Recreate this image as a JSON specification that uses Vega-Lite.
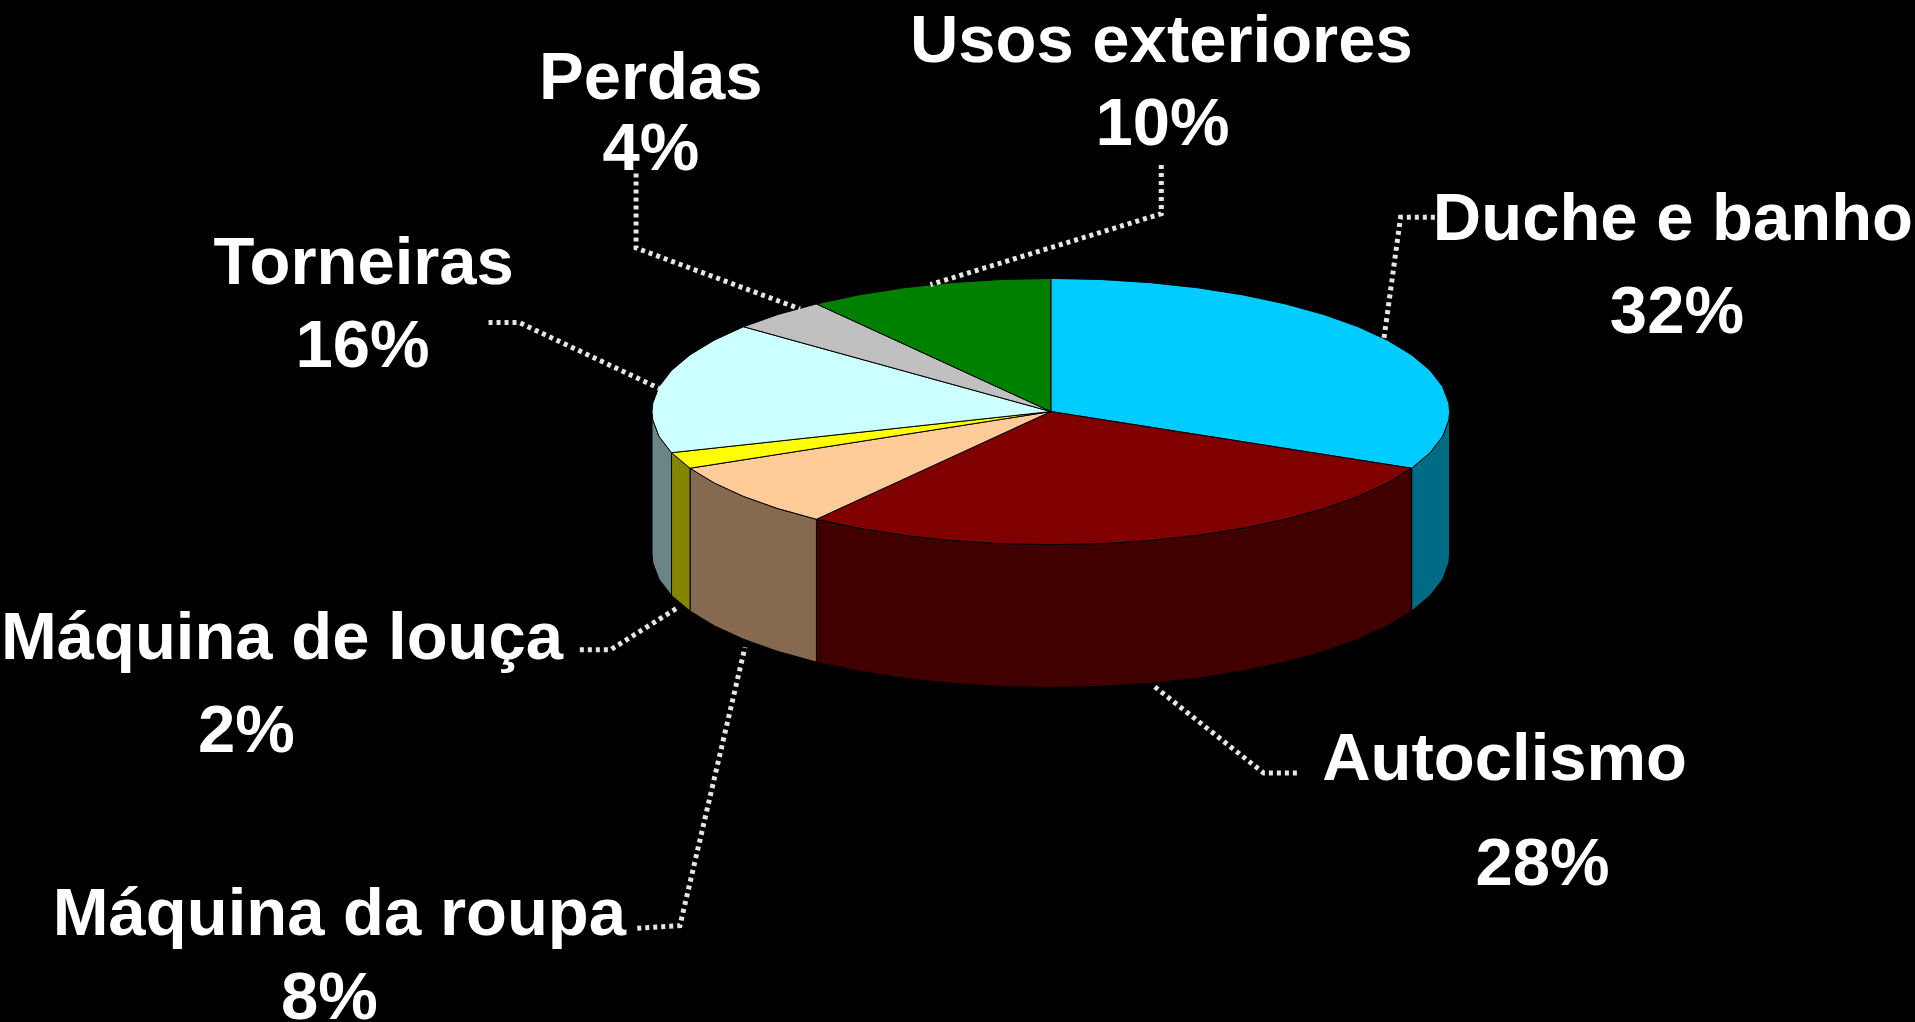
{"$schema":"https://vega.github.io/schema/vega-lite/v6.json","width":1915,"height":1022,"autosize":{"type":"none"},"padding":0,"background":"#000000","config":{"view":{"stroke":null}},
"resolve":{"scale":{"fill":"independent"}},
"datasets":{
"walls":[
{"part":"Duche e banho (lado)","x":1,"y":0,"y2":-1.073},{"part":"Duche e banho (lado)","x":0.998,"y":-0.0628,"y2":-1.1358},{"part":"Duche e banho (lado)","x":0.9823,"y":-0.1874,"y2":-1.2604},{"part":"Duche e banho (lado)","x":0.9511,"y":-0.309,"y2":-1.382},{"part":"Duche e banho (lado)","x":0.9048,"y":-0.4258,"y2":-1.4988},
{"part":"Autoclismo (lado)","x":0.9048,"y":-0.4258,"y2":-1.4988},{"part":"Autoclismo (lado)","x":0.8443,"y":-0.5358,"y2":-1.6088},{"part":"Autoclismo (lado)","x":0.7705,"y":-0.6374,"y2":-1.7104},{"part":"Autoclismo (lado)","x":0.6845,"y":-0.729,"y2":-1.802},{"part":"Autoclismo (lado)","x":0.5878,"y":-0.809,"y2":-1.882},{"part":"Autoclismo (lado)","x":0.4818,"y":-0.8763,"y2":-1.9493},{"part":"Autoclismo (lado)","x":0.3681,"y":-0.9298,"y2":-2.0028},{"part":"Autoclismo (lado)","x":0.2487,"y":-0.9686,"y2":-2.0416},{"part":"Autoclismo (lado)","x":0.1253,"y":-0.9921,"y2":-2.0651},{"part":"Autoclismo (lado)","x":0,"y":-1,"y2":-2.073},{"part":"Autoclismo (lado)","x":-0.1253,"y":-0.9921,"y2":-2.0651},{"part":"Autoclismo (lado)","x":-0.2487,"y":-0.9686,"y2":-2.0416},{"part":"Autoclismo (lado)","x":-0.3681,"y":-0.9298,"y2":-2.0028},{"part":"Autoclismo (lado)","x":-0.4818,"y":-0.8763,"y2":-1.9493},{"part":"Autoclismo (lado)","x":-0.5878,"y":-0.809,"y2":-1.882},
{"part":"Máquina da roupa (lado)","x":-0.5878,"y":-0.809,"y2":-1.882},{"part":"Máquina da roupa (lado)","x":-0.6845,"y":-0.729,"y2":-1.802},{"part":"Máquina da roupa (lado)","x":-0.7705,"y":-0.6374,"y2":-1.7104},{"part":"Máquina da roupa (lado)","x":-0.8443,"y":-0.5358,"y2":-1.6088},{"part":"Máquina da roupa (lado)","x":-0.9048,"y":-0.4258,"y2":-1.4988},
{"part":"Máquina de louça (lado)","x":-0.9048,"y":-0.4258,"y2":-1.4988},{"part":"Máquina de louça (lado)","x":-0.9511,"y":-0.309,"y2":-1.382},
{"part":"Torneiras (lado)","x":-0.9511,"y":-0.309,"y2":-1.382},{"part":"Torneiras (lado)","x":-0.9823,"y":-0.1874,"y2":-1.2604},{"part":"Torneiras (lado)","x":-0.998,"y":-0.0628,"y2":-1.1358},{"part":"Torneiras (lado)","x":-1,"y":0,"y2":-1.073}
],
"slices":[
{"part":"Duche e banho","p":-1,"x":0,"y":0},{"part":"Duche e banho","p":0,"x":0,"y":1},{"part":"Duche e banho","p":2,"x":0.1253,"y":0.9921},{"part":"Duche e banho","p":4,"x":0.2487,"y":0.9686},{"part":"Duche e banho","p":6,"x":0.3681,"y":0.9298},{"part":"Duche e banho","p":8,"x":0.4818,"y":0.8763},{"part":"Duche e banho","p":10,"x":0.5878,"y":0.809},{"part":"Duche e banho","p":12,"x":0.6845,"y":0.729},{"part":"Duche e banho","p":14,"x":0.7705,"y":0.6374},{"part":"Duche e banho","p":16,"x":0.8443,"y":0.5358},{"part":"Duche e banho","p":18,"x":0.9048,"y":0.4258},{"part":"Duche e banho","p":20,"x":0.9511,"y":0.309},{"part":"Duche e banho","p":22,"x":0.9823,"y":0.1874},{"part":"Duche e banho","p":24,"x":0.998,"y":0.0628},{"part":"Duche e banho","p":25,"x":1,"y":0},{"part":"Duche e banho","p":26,"x":0.998,"y":-0.0628},{"part":"Duche e banho","p":28,"x":0.9823,"y":-0.1874},{"part":"Duche e banho","p":30,"x":0.9511,"y":-0.309},{"part":"Duche e banho","p":32,"x":0.9048,"y":-0.4258},
{"part":"Autoclismo","p":-1,"x":0,"y":0},{"part":"Autoclismo","p":32,"x":0.9048,"y":-0.4258},{"part":"Autoclismo","p":34,"x":0.8443,"y":-0.5358},{"part":"Autoclismo","p":36,"x":0.7705,"y":-0.6374},{"part":"Autoclismo","p":38,"x":0.6845,"y":-0.729},{"part":"Autoclismo","p":40,"x":0.5878,"y":-0.809},{"part":"Autoclismo","p":42,"x":0.4818,"y":-0.8763},{"part":"Autoclismo","p":44,"x":0.3681,"y":-0.9298},{"part":"Autoclismo","p":46,"x":0.2487,"y":-0.9686},{"part":"Autoclismo","p":48,"x":0.1253,"y":-0.9921},{"part":"Autoclismo","p":50,"x":0,"y":-1},{"part":"Autoclismo","p":52,"x":-0.1253,"y":-0.9921},{"part":"Autoclismo","p":54,"x":-0.2487,"y":-0.9686},{"part":"Autoclismo","p":56,"x":-0.3681,"y":-0.9298},{"part":"Autoclismo","p":58,"x":-0.4818,"y":-0.8763},{"part":"Autoclismo","p":60,"x":-0.5878,"y":-0.809},
{"part":"Máquina da roupa","p":-1,"x":0,"y":0},{"part":"Máquina da roupa","p":60,"x":-0.5878,"y":-0.809},{"part":"Máquina da roupa","p":62,"x":-0.6845,"y":-0.729},{"part":"Máquina da roupa","p":64,"x":-0.7705,"y":-0.6374},{"part":"Máquina da roupa","p":66,"x":-0.8443,"y":-0.5358},{"part":"Máquina da roupa","p":68,"x":-0.9048,"y":-0.4258},
{"part":"Máquina de louça","p":-1,"x":0,"y":0},{"part":"Máquina de louça","p":68,"x":-0.9048,"y":-0.4258},{"part":"Máquina de louça","p":70,"x":-0.9511,"y":-0.309},
{"part":"Torneiras","p":-1,"x":0,"y":0},{"part":"Torneiras","p":70,"x":-0.9511,"y":-0.309},{"part":"Torneiras","p":72,"x":-0.9823,"y":-0.1874},{"part":"Torneiras","p":74,"x":-0.998,"y":-0.0628},{"part":"Torneiras","p":75,"x":-1,"y":0},{"part":"Torneiras","p":76,"x":-0.998,"y":0.0628},{"part":"Torneiras","p":78,"x":-0.9823,"y":0.1874},{"part":"Torneiras","p":80,"x":-0.9511,"y":0.309},{"part":"Torneiras","p":82,"x":-0.9048,"y":0.4258},{"part":"Torneiras","p":84,"x":-0.8443,"y":0.5358},{"part":"Torneiras","p":86,"x":-0.7705,"y":0.6374},
{"part":"Perdas","p":-1,"x":0,"y":0},{"part":"Perdas","p":86,"x":-0.7705,"y":0.6374},{"part":"Perdas","p":88,"x":-0.6845,"y":0.729},{"part":"Perdas","p":90,"x":-0.5878,"y":0.809},
{"part":"Usos exteriores","p":-1,"x":0,"y":0},{"part":"Usos exteriores","p":90,"x":-0.5878,"y":0.809},{"part":"Usos exteriores","p":92,"x":-0.4818,"y":0.8763},{"part":"Usos exteriores","p":94,"x":-0.3681,"y":0.9298},{"part":"Usos exteriores","p":96,"x":-0.2487,"y":0.9686},{"part":"Usos exteriores","p":98,"x":-0.1253,"y":0.9921},{"part":"Usos exteriores","p":100,"x":0,"y":1}
],
"leaders":[
{"name":"Duche e banho","seq":1,"x":0.963,"y":1.459},{"name":"Duche e banho","seq":2,"x":0.877,"y":1.459},{"name":"Duche e banho","seq":3,"x":0.835,"y":0.541},
{"name":"Usos exteriores","seq":1,"x":0.277,"y":1.853},{"name":"Usos exteriores","seq":2,"x":0.277,"y":1.486},{"name":"Usos exteriores","seq":3,"x":-0.302,"y":0.954},
{"name":"Perdas","seq":1,"x":-1.04,"y":1.789},{"name":"Perdas","seq":2,"x":-1.04,"y":1.229},{"name":"Perdas","seq":3,"x":-0.629,"y":0.771},
{"name":"Torneiras","seq":1,"x":-1.41,"y":0.67},{"name":"Torneiras","seq":2,"x":-1.334,"y":0.67},{"name":"Torneiras","seq":3,"x":-0.982,"y":0.174},
{"name":"Máquina de louça","seq":1,"x":-1.181,"y":-1.789},{"name":"Máquina de louça","seq":2,"x":-1.104,"y":-1.789},{"name":"Máquina de louça","seq":3,"x":-0.933,"y":-1.468},
{"name":"Máquina da roupa","seq":1,"x":-1.037,"y":-3.881},{"name":"Máquina da roupa","seq":2,"x":-0.93,"y":-3.862},{"name":"Máquina da roupa","seq":3,"x":-0.767,"y":-1.771},
{"name":"Autoclismo","seq":1,"x":0.617,"y":-2.716},{"name":"Autoclismo","seq":2,"x":0.534,"y":-2.716},{"name":"Autoclismo","seq":3,"x":0.259,"y":-2.064}
],
"labels":[
{"text":"Usos exteriores","x":0.277,"y":2.798},{"text":"10%","x":0.28,"y":2.174},
{"text":"Perdas","x":-1.003,"y":2.523},{"text":"4%","x":-1.003,"y":1.991},
{"text":"Duche e banho","x":1.56,"y":1.459},{"text":"32%","x":1.57,"y":0.761},
{"text":"Torneiras","x":-1.723,"y":1.128},{"text":"16%","x":-1.726,"y":0.505},
{"text":"Máquina de louça","x":-1.928,"y":-1.688},{"text":"2%","x":-2.017,"y":-2.385},
{"text":"Autoclismo","x":1.138,"y":-2.596},{"text":"28%","x":1.233,"y":-3.385},
{"text":"Máquina da roupa","x":-1.784,"y":-3.761},{"text":"8%","x":-1.809,"y":-4.394}
]},
"encoding":{
"x":{"field":"x","type":"quantitative","axis":null,"scale":{"domain":[-2.635,2.167],"nice":false,"zero":false}},
"y":{"field":"y","type":"quantitative","axis":null,"scale":{"domain":[-4.586,3.092],"nice":false,"zero":false}}
},
"layer":[
{"data":{"name":"walls"},"mark":{"type":"area","stroke":"#000000","strokeWidth":1},
"encoding":{"y2":{"field":"y2"},"fill":{"field":"part","type":"nominal","legend":null,"scale":{"domain":["Duche e banho (lado)","Autoclismo (lado)","Máquina da roupa (lado)","Máquina de louça (lado)","Torneiras (lado)"],"range":["#006B85","#400000","#856A50","#858500","#6A8585"]}}}},
{"data":{"name":"slices"},"mark":{"type":"line","interpolate":"linear-closed","stroke":"#000000","strokeWidth":1},
"encoding":{"order":{"field":"p","type":"quantitative"},"detail":{"field":"part"},"fill":{"field":"part","type":"nominal","legend":null,"scale":{"domain":["Duche e banho","Autoclismo","Máquina da roupa","Máquina de louça","Torneiras","Perdas","Usos exteriores"],"range":["#00CCFF","#800000","#FFCC99","#FFFF00","#CCFFFF","#C0C0C0","#008000"]}}}},
{"data":{"name":"leaders"},"mark":{"type":"line","stroke":"#E6E6E6","strokeWidth":5,"strokeDash":[4,4]},
"encoding":{"order":{"field":"seq","type":"quantitative"},"detail":{"field":"name"}}},
{"data":{"name":"labels"},"mark":{"type":"text","font":"Liberation Sans","fontWeight":"bold","fontSize":67,"dy":3,"fill":"#FFFFFF","align":"center","baseline":"middle"},
"encoding":{"text":{"field":"text","type":"nominal"}}}
]}
